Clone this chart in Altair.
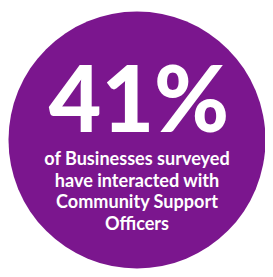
import altair as alt
import pandas as pd

# Data
headline = ["41%"]
caption_lines = ["of Businesses surveyed", "have interacted with", "Community Support", "Officers"]
share = [41]

PURPLE = "#7b168e"
FONT = "Lato"

base = alt.Chart(pd.DataFrame({"share": share, "headline": headline,
                               "caption": ["\n".join(caption_lines)]}))

disc = base.mark_arc(radius=131.5, theta=0, theta2=6.2832, color=PURPLE).encode(
    x=alt.value(132), y=alt.value(132)
)

big = base.mark_text(font=FONT, fontWeight=900, fontSize=93, color="white",
                     align="center", baseline="alphabetic").encode(
    x=alt.value(134), y=alt.value(123.5), text="headline:N"
)

small = base.mark_text(font=FONT, fontWeight="bold", fontSize=18.5, color="white",
                       align="center", baseline="alphabetic", lineBreak="\n",
                       lineHeight=22).encode(
    x=alt.value(132), y=alt.value(158), text="caption:N"
)

chart = alt.layer(disc, big, small).properties(
    width=263, height=265, padding=0, autosize="none", background="white"
).configure_view(stroke=None)

chart.save("out.html", embed_options={"renderer": "svg", "actions": False})
